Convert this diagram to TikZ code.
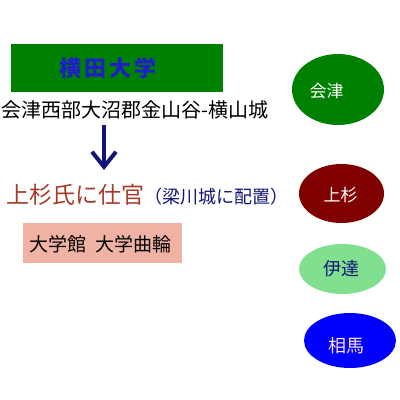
\documentclass[tikz,border=0pt]{standalone}
\usepackage{fontspec}
\newfontfamily\jp{Noto Sans CJK JP}
\usetikzlibrary{shapes.geometric,arrows.meta}
\definecolor{darkgreen}{RGB}{0,128,0}
\definecolor{titleblue}{RGB}{30,30,200}
\definecolor{brownred}{RGB}{165,60,40}
\definecolor{navyc}{RGB}{20,20,120}
\definecolor{pinkc}{RGB}{240,178,162}
\definecolor{maroonc}{RGB}{128,0,0}
\definecolor{lightgreenc}{RGB}{128,224,144}
\definecolor{bluec}{RGB}{0,0,255}
\definecolor{palepink}{RGB}{255,225,230}
\tikzset{
  txt/.style={inner sep=0pt, font=\jp},
  oval/.style={ellipse, inner sep=0pt, draw=none},
}
\begin{document}
\begin{tikzpicture}[x=1pt,y=-1pt]
\useasboundingbox[fill=white] (0,0) rectangle (400,400);
% title box
\node[fill=darkgreen, minimum width=212pt, minimum height=48pt, inner sep=0pt] (tbox) at (117,68) {};
\node[txt, text=titleblue, font=\jp\bfseries\fontsize{22}{22}\selectfont] (title) at (108,68) {横\hspace{3pt}田\hspace{3pt}大\hspace{3pt}学};
% line
\node[txt, anchor=west, font=\jp\fontsize{20}{20}\selectfont] (loc) at (1,110) {会津西部大沼郡金山谷-横山城};
% arrow
\coordinate (a1) at (104,125);
\coordinate (a2) at (104,170);
\draw[navyc, line width=4pt, -{Straight Barb[length=15pt,width=24pt,line width=4pt]}] (a1) -- (a2);
% service line
\node[txt, anchor=west] (serv) at (6,195) {{\color{brownred}\fontsize{23}{23}\selectfont 上杉氏に仕官}{\color{navyc}\fontsize{18}{18}\selectfont （梁川城に配置）}};
% pink box
\node[fill=pinkc, minimum width=159pt, minimum height=40pt, inner sep=0pt] (pbox) at (102.5,243) {};
\node[txt, font=\jp\fontsize{19}{19}\selectfont] (ptxt) at (100.5,244) {大学館\hspace{0.5em}大学曲輪};
% ovals
\node[oval, fill=darkgreen, minimum width=92pt, minimum height=71pt] (aizu) at (338,89.5) {};
\node[txt, text=white, font=\jp\fontsize{17}{17}\selectfont] (aizut) at (326.5,91) {会津};
\node[oval, fill=maroonc, minimum width=85pt, minimum height=59pt] (ues) at (341.5,193.5) {};
\node[txt, text=white, font=\jp\fontsize{17}{17}\selectfont] (uest) at (340.5,195) {上杉};
\node[oval, fill=lightgreenc, minimum width=87pt, minimum height=50pt] (date) at (342.5,269) {};
\node[txt, text=navyc, font=\jp\fontsize{18}{18}\selectfont] (datet) at (341,269) {伊達};
\node[oval, fill=bluec, minimum width=92pt, minimum height=55pt] (soma) at (350,340.5) {};
\node[txt, text=palepink, font=\jp\fontsize{18}{18}\selectfont] (somat) at (346.5,346) {相馬};
\end{tikzpicture}
\end{document}
